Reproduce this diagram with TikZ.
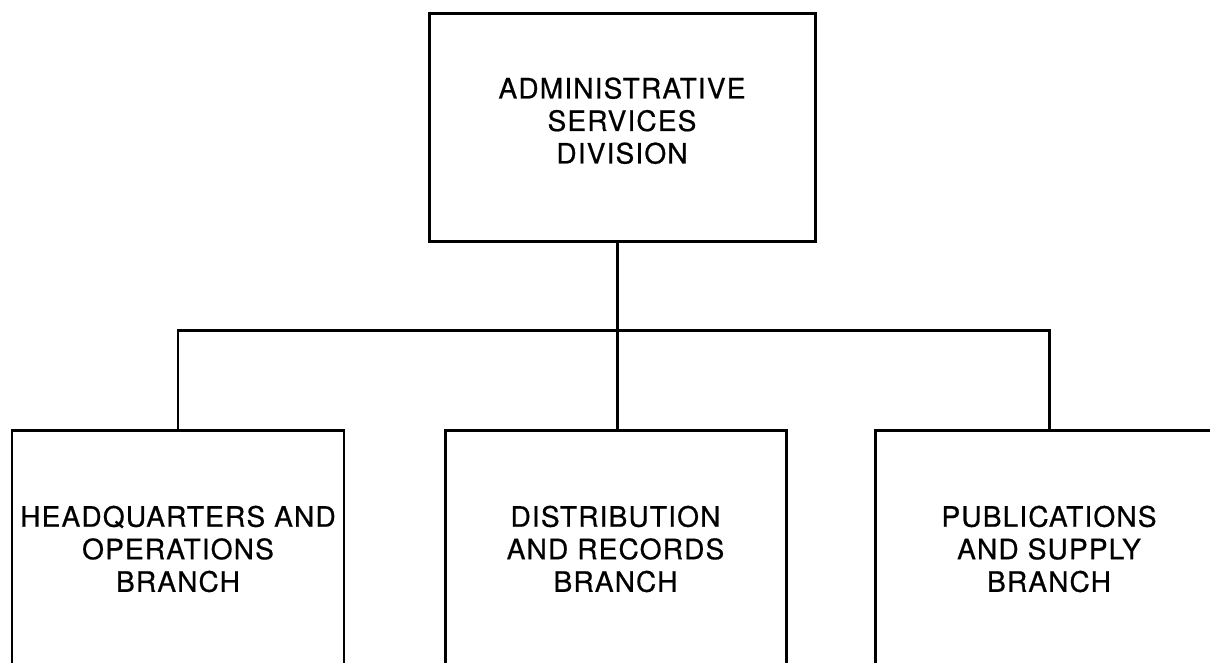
\documentclass[tikz,border=0pt]{standalone}
\usepackage{fontspec}
\setmainfont[LetterSpace=4,FakeBold=0.6]{TeX Gyre Heros}
\begin{document}
\begin{tikzpicture}[
  unit/.style={draw, line width=1.7pt, align=center, inner sep=0pt,
    font=\fontsize{16}{18.5}\selectfont},
  link/.style={draw, line width=1.7pt}]
\useasboundingbox (0,0) rectangle (24.2,13.26);
\clip (0,0) rectangle (24.2,13.26);
\node[unit, minimum width=7.72cm, minimum height=4.56cm, text depth=0.3cm] (adm) at (12.44,10.70) {ADMINISTRATIVE\\SERVICES\\DIVISION};
\node[unit, minimum width=6.64cm, minimum height=4.72cm] (hq) at (3.56,2.28) {HEADQUARTERS AND\\OPERATIONS\\BRANCH};
\node[unit, minimum width=6.82cm, minimum height=4.72cm] (dist) at (12.31,2.28) {DISTRIBUTION\\AND RECORDS\\BRANCH};
\node[unit, minimum width=6.96cm, minimum height=4.72cm] (pub) at (20.98,2.28) {PUBLICATIONS\\AND SUPPLY\\BRANCH};
\coordinate (j) at (12.34,6.64);

\path[link] (j |- adm.south) -- (j);
\path[link] (j) -- (j |- dist.north);
\path[link] (hq.north) |- (j);
\path[link] (j) -| (pub.north);
\end{tikzpicture}
\end{document}
